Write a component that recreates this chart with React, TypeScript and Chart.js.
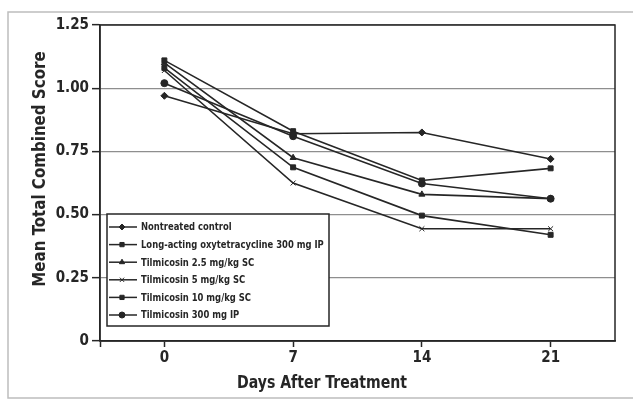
import React, { useEffect, useRef } from 'react';
import { Chart, registerables } from 'chart.js';
import * as helpers from 'chart.js/helpers';

Chart.register(...registerables);

const days = [0, 7, 14, 21];
const xTickLabels = ['0', '7', '14', '21'];
const yTicks = [0, 0.25, 0.5, 0.75, 1.0, 1.25];
const yTickLabels = ['0', '0.25', '0.50', '0.75', '1.00', '1.25'];

const seriesLabels = [
  'Nontreated control',
  'Long-acting oxytetracycline 300 mg IP',
  'Tilmicosin 2.5 mg/kg SC',
  'Tilmicosin 5 mg/kg SC',
  'Tilmicosin 10 mg/kg SC',
  'Tilmicosin 300 mg IP',
];
const nontreatedControl = [0.97, 0.82, 0.825, 0.72];
const oxytetracycline300IP = [1.11, 0.83, 0.635, 0.683];
const tilmicosin25SC = [1.1, 0.725, 0.58, 0.563];
const tilmicosin5SC = [1.07, 0.625, 0.444, 0.444];
const tilmicosin10SC = [1.08, 0.687, 0.496, 0.42];
const tilmicosin300IP = [1.02, 0.81, 0.623, 0.563];
const seriesValues = [
  nontreatedControl,
  oxytetracycline300IP,
  tilmicosin25SC,
  tilmicosin5SC,
  tilmicosin10SC,
  tilmicosin300IP,
];
const pointStyles = ['rectRot', 'rect', 'triangle', 'crossRot', 'rect', 'circle'];

const yTitle = 'Mean Total Combined Score';
const xTitle = 'Days After Treatment';

const FONT = "'Liberation Sans Narrow', 'DejaVu Sans Condensed', 'Arial Narrow', sans-serif";
const INK = '#262626';
const GRID = '#8e8e8e';

const decorPlugin = {
  id: 'decor',
  beforeDraw(chart: any) {
    const { ctx } = chart;
    ctx.save();
    ctx.fillStyle = '#ffffff';
    ctx.fillRect(0, 0, chart.width, chart.height);
    ctx.strokeStyle = '#bdbdbd';
    ctx.lineWidth = 1.5;
    ctx.strokeRect(8, 12, chart.width, chart.height - 16);
    ctx.restore();
  },
  beforeDatasetsDraw(chart: any) {
    const { ctx, chartArea: a } = chart;
    ctx.save();
    ctx.strokeStyle = INK;
    ctx.lineWidth = 1.5;
    ctx.strokeRect(a.left, a.top, a.right - a.left, a.bottom - a.top);
    ctx.restore();
  },
  afterDraw(chart: any) {
    const { ctx } = chart;
    ctx.save();
    // axis titles (slightly condensed)
    ctx.fillStyle = INK;
    ctx.font = `bold 18px ${FONT}`;
    ctx.textAlign = 'center';
    ctx.textBaseline = 'middle';
    ctx.save();
    ctx.translate(40, 169);
    ctx.rotate(-Math.PI / 2);
    ctx.scale(0.93, 1);
    ctx.fillText(yTitle, 0, 0);
    ctx.restore();
    ctx.save();
    ctx.translate(322, 383);
    ctx.scale(0.87, 1);
    ctx.fillText(xTitle, 0, 0);
    ctx.restore();

    // legend box
    const bx = 107, by = 214, bw = 222, bh = 112;
    ctx.fillStyle = '#ffffff';
    ctx.fillRect(bx, by, bw, bh);
    ctx.strokeStyle = INK;
    ctx.lineWidth = 1.5;
    ctx.strokeRect(bx, by, bw, bh);
    ctx.font = `bold 11px ${FONT}`;
    ctx.textAlign = 'left';
    ctx.textBaseline = 'middle';
    chart.data.datasets.forEach((ds: any, i: number) => {
      const y = 227 + i * 17.6;
      ctx.strokeStyle = INK;
      ctx.fillStyle = INK;
      ctx.lineWidth = 1.5;
      ctx.beginPath();
      ctx.moveTo(109, y);
      ctx.lineTo(137, y);
      ctx.stroke();
      ctx.lineWidth = 1;
      helpers.drawPoint(ctx, { pointStyle: ds.pointStyle, rotation: 0, radius: 3, borderWidth: 1 }, 122, y);
      ctx.fillStyle = INK;
      ctx.save();
      ctx.translate(141, y + 0.5);
      ctx.scale(0.85, 1);
      ctx.fillText(ds.label, 0, 0);
      ctx.restore();
    });
    ctx.restore();
  },
};

export default function App() {
  const ref = useRef<HTMLCanvasElement>(null);
  useEffect(() => {
    const datasets = seriesLabels.map((label, i) => ({
      label,
      data: days.map((d, j) => ({ x: d, y: seriesValues[i][j] })),
      borderColor: INK,
      borderWidth: 1.6,
      backgroundColor: INK,
      pointStyle: pointStyles[i],
      pointRadius: 3.5,
      pointBorderWidth: 1,
      pointBackgroundColor: INK,
      pointBorderColor: INK,
      tension: 0,
      fill: false,
    }));
    const chart = new Chart(ref.current as HTMLCanvasElement, {
      type: 'line',
      data: { datasets },
      plugins: [decorPlugin],
      options: {
        animation: false,
        responsive: true,
        maintainAspectRatio: false,
        layout: { padding: { top: 25, right: 18, left: 0, bottom: 0 } },
        plugins: { legend: { display: false }, tooltip: { enabled: false } },
        scales: {
          x: {
            type: 'linear',
            min: -3.5,
            max: 24.5,
            afterBuildTicks: (s: any) => {
              s.ticks = [-3.5, ...days].map((v) => ({ value: v }));
            },
            afterFit: (s: any) => {
              s.height = 61;
            },
            ticks: {
              autoSkip: false,
              maxRotation: 0,
              padding: 2,
              color: INK,
              font: { family: FONT, size: 15, weight: 'bold' },
              callback: (v: any) => {
                const i = days.indexOf(Number(v));
                return i >= 0 ? xTickLabels[i] : '';
              },
            },
            grid: { drawOnChartArea: false, drawTicks: true, tickLength: 6, tickColor: INK, tickWidth: 1.5 },
            border: { display: true, color: INK, width: 1.5 },
          },
          y: {
            type: 'linear',
            min: 0,
            max: 1.25,
            afterBuildTicks: (s: any) => {
              s.ticks = yTicks.map((v) => ({ value: v }));
            },
            afterFit: (s: any) => {
              s.width = 100;
            },
            ticks: {
              autoSkip: false,
              padding: 3,
              color: INK,
              font: { family: FONT, size: 15, weight: 'bold' },
              callback: (v: any) => {
                const i = yTicks.indexOf(Number(v));
                return i >= 0 ? yTickLabels[i] : '';
              },
            },
            grid: { color: GRID, lineWidth: 1.3, drawTicks: true, tickLength: 8, tickColor: INK, tickWidth: 1.5 },
            border: { display: true, color: INK, width: 1.5 },
          },
        },
      } as any,
    });
    return () => chart.destroy();
  }, []);
  return (
    <div style={{ position: 'absolute', left: 0, top: 0, width: 633, height: 402 }}>
      <canvas ref={ref} />
    </div>
  );
}
